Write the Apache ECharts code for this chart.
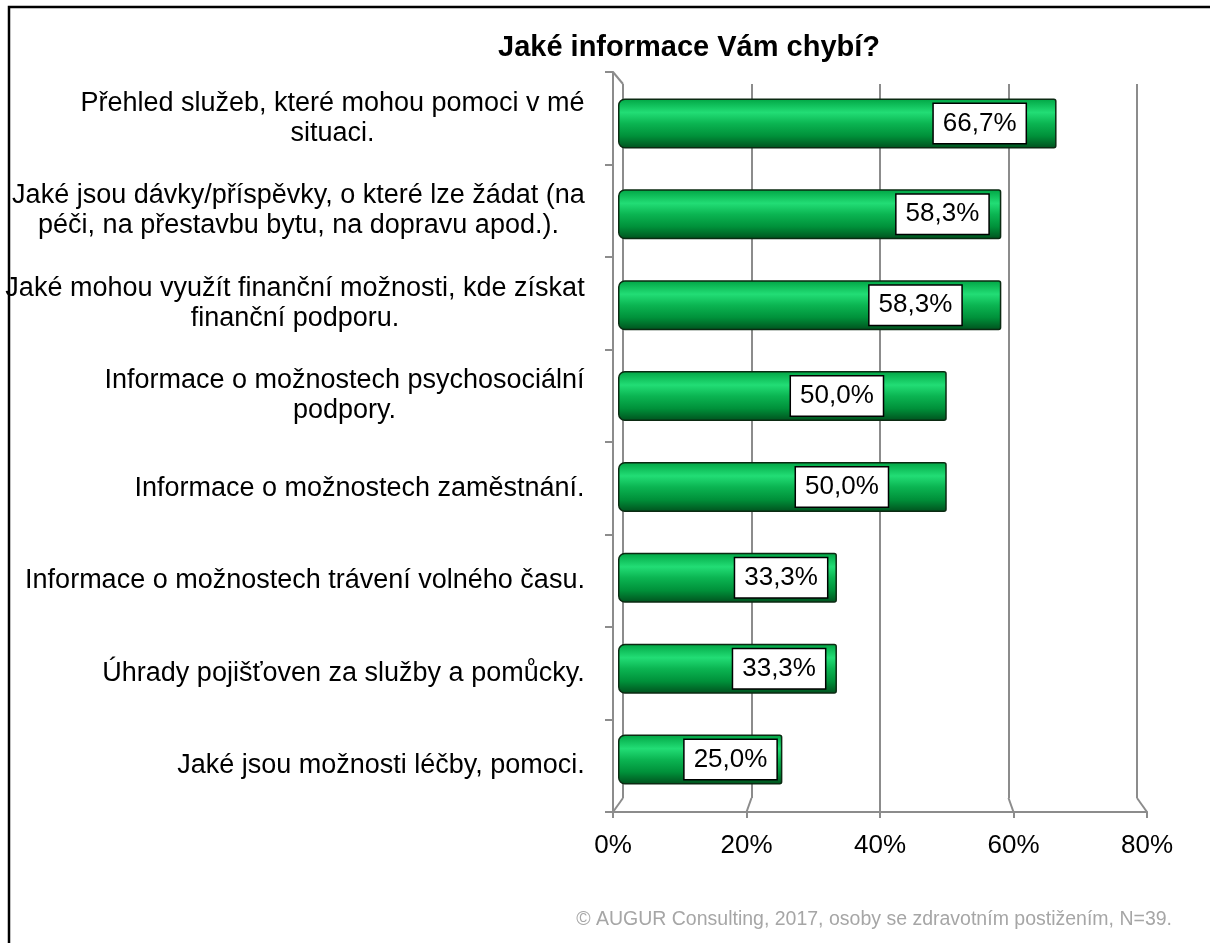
<!DOCTYPE html>
<html><head><meta charset="utf-8">
<script src="https://cdn.jsdelivr.net/npm/echarts@6/dist/echarts.min.js"></script>
<style>html,body{margin:0;padding:0;background:#fff}#c{width:1210px;height:943px}</style>
</head><body><div id="c"></div>
<script>
// ---- data ----
const categories = [
  "Přehled služeb, které mohou pomoci v mé\nsituaci.",
  "Jaké jsou dávky/příspěvky, o které lze žádat (na\npéči, na přestavbu bytu, na dopravu apod.).",
  "Jaké mohou využít finanční možnosti, kde získat\nfinanční podporu.",
  "Informace o možnostech psychosociální\npodpory.",
  "Informace o možnostech zaměstnání.",
  "Informace o možnostech trávení volného času.",
  "Úhrady pojišťoven za služby a pomůcky.",
  "Jaké jsou možnosti léčby, pomoci."
];
const values = [66.7, 58.3, 58.3, 50.0, 50.0, 33.3, 33.3, 25.0];
const xTickValues = [0, 20, 40, 60, 80];
const titleText = "Jaké informace Vám chybí?";
const sourceText = "© AUGUR Consulting, 2017, osoby se zdravotním postižením, N=39.";

// ---- style ----
const labelGaps = [31, 13, 40, 64, 59, 10, 12, 6];
const FONT = 'Arial, "Liberation Sans", sans-serif';
const CAT_FS = 27;
const AX_FS = 26;
const VAL_FS = 26;
const GRID = '#8c8c8c';

const meas = document.createElement('canvas').getContext('2d');
meas.font = CAT_FS + 'px ' + FONT;
const rich = {};
categories.forEach((c, i) => {
  const w = Math.max(...c.split('\n').map(l => meas.measureText(l).width));
  rich['r' + i] = {width: Math.ceil(w) + 2, align: 'center', fontSize: CAT_FS, fontFamily: FONT, color: '#000', lineHeight: 30};
});

const chart = echarts.init(document.getElementById('c'), null, {renderer: 'canvas'});
const xMin = xTickValues[0], xMax = xTickValues[xTickValues.length - 1];
const xStep = xTickValues[1] - xTickValues[0];

const option = {
  backgroundColor: '#fff',
  animation: false,
  title: {
    text: titleText, left: 684, top: 28, textAlign: 'center',
    textStyle: {fontFamily: FONT, fontSize: 29, fontWeight: 'bold', color: '#000'}
  },
  grid: [
    {left: 613, right: 63, top: 72, bottom: 131},   // front plane
    {left: 623, right: 73, top: 84, bottom: 145},   // back plane
    {left: 618, right: 66, top: 78, bottom: 138}    // bars
  ],
  xAxis: [
    {gridIndex: 0, type: 'value', min: xMin, max: xMax, interval: xStep,
     axisLine: {show: true, lineStyle: {color: GRID, width: 2}},
     axisTick: {show: true, length: 6, lineStyle: {color: GRID, width: 2}},
     splitLine: {show: false},
     axisLabel: {formatter: v => v + '%', fontSize: AX_FS, fontFamily: FONT, color: '#000', margin: 21}},
    {gridIndex: 1, type: 'value', min: xMin, max: xMax, interval: xStep,
     axisLine: {show: false}, axisTick: {show: false}, axisLabel: {show: false},
     splitLine: {show: true, lineStyle: {color: GRID, width: 2}}},
    {gridIndex: 2, type: 'value', min: xMin, max: xMax, show: false}
  ],
  yAxis: [
    {gridIndex: 0, type: 'category', data: categories, inverse: true,
     axisLine: {show: true, lineStyle: {color: GRID, width: 2}},
     axisTick: {show: true, length: 8, lineStyle: {color: GRID, width: 2}},
     axisLabel: {margin: 27, formatter: (v, i) => v.split('\n').map(l => '{r' + i + '|' + l + '}').join('\n'), rich: rich}},
    {gridIndex: 1, type: 'category', data: categories, inverse: true, show: false},
    {gridIndex: 2, type: 'category', data: categories, inverse: true, show: false}
  ],
  series: [{
    type: 'bar', xAxisIndex: 2, yAxisIndex: 2, barWidth: 50,
    data: values.map((v, i) => ({value: v, label: {offset: [-labelGaps[i], 0]}})),
    itemStyle: {
      borderColor: '#0b2a12', borderWidth: 1.5, borderRadius: [6, 2, 2, 6],
      color: new echarts.graphic.LinearGradient(0, 0, 0, 1, [
        {offset: 0, color: '#00a443'},
        {offset: 0.28, color: '#22dd75'},
        {offset: 0.5, color: '#0bb552'},
        {offset: 0.75, color: '#00913a'},
        {offset: 1, color: '#00501d'}
      ])
    },
    label: {
      show: true, position: 'insideRight', distance: 0,
      formatter: p => p.value.toFixed(1).replace('.', ',') + '%',
      fontSize: VAL_FS, fontFamily: FONT, color: '#000', lineHeight: 28,
      backgroundColor: '#fff', borderColor: '#000', borderWidth: 1.5,
      padding: [6, 9, 5, 9]
    }
  }],
  graphic: []
};
chart.setOption(option);

// 3D wall connectors computed from the axes
const g = [];
xTickValues.forEach(v => {
  const xb = chart.convertToPixel({xAxisIndex: 1}, v);
  const xf = chart.convertToPixel({xAxisIndex: 0}, v);
  g.push({type: 'line', shape: {x1: xb, y1: 943 - 145, x2: xf, y2: 943 - 131}, style: {stroke: GRID, lineWidth: 2}});
});
g.push({type: 'line', shape: {x1: 613, y1: 72, x2: 623, y2: 84}, style: {stroke: GRID, lineWidth: 2}});
g.push({type: 'line', shape: {x1: 623, y1: 84, x2: 623, y2: 798}, style: {stroke: GRID, lineWidth: 2}});
g.push({type: 'rect', shape: {x: 9, y: 7, width: 1300, height: 1000}, style: {fill: null, stroke: '#000', lineWidth: 2.5}});
g.push({type: 'text', right: 38, top: 910, style: {text: sourceText, fill: '#a6a6a6', font: '19.5px ' + FONT, textAlign: 'right'}});
chart.setOption({graphic: g});
</script>
</body></html>
